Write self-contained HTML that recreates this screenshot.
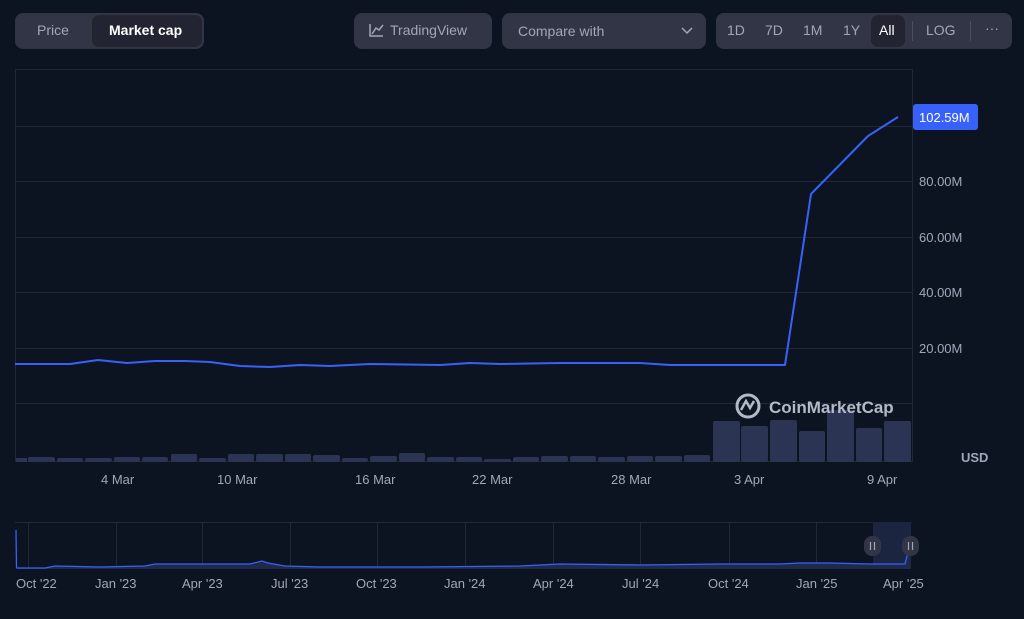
<!DOCTYPE html>
<html><head><meta charset="utf-8"><style>
html,body{margin:0;padding:0;background:#0d1421;width:1024px;height:619px;overflow:hidden;font-family:"Liberation Sans",sans-serif;}
.box{position:absolute;background:#323546;border-radius:8px;}
.t{position:absolute;color:#a1a7bb;font-size:14px;}
</style></head><body>
<div class="box" style="left:15px;top:13px;width:189px;height:36px;"></div>
<div class="box" style="left:92px;top:15px;width:110px;height:32px;background:#222531;border-radius:7px;"></div>
<div class="t" style="left:37px;top:22px;">Price</div>
<div class="t" style="left:109px;top:22px;color:#fff;font-weight:bold;">Market cap</div>
<div class="box" style="left:354px;top:13px;width:138px;height:36px;"></div>
<svg style="position:absolute;left:368px;top:22px" width="16" height="16"><path d="M2 2V14H15M4 12L8 6L11 8L15 3" stroke="#a1a7bb" stroke-width="1.5" fill="none"/></svg>
<div class="t" style="left:390px;top:22px;">TradingView</div>
<div class="box" style="left:502px;top:13px;width:204px;height:36px;"></div>
<div class="t" style="left:518px;top:23px;">Compare with</div>
<svg style="position:absolute;left:680px;top:26px" width="14" height="10"><path d="M2 2L7 7L12 2" stroke="#a1a7bb" stroke-width="1.5" fill="none"/></svg>
<div class="box" style="left:716px;top:13px;width:296px;height:36px;"></div>
<div class="box" style="left:871px;top:15px;width:34px;height:32px;background:#222531;border-radius:7px;"></div>
<div class="t" style="left:727px;top:22px;">1D</div>
<div class="t" style="left:765px;top:22px;">7D</div>
<div class="t" style="left:803px;top:22px;">1M</div>
<div class="t" style="left:843px;top:22px;">1Y</div>
<div class="t" style="left:879px;top:22px;color:#fff;">All</div>
<div style="position:absolute;left:912px;top:21px;width:1px;height:20px;background:#4a4e5e"></div>
<div class="t" style="left:926px;top:22px;">LOG</div>
<div style="position:absolute;left:970px;top:21px;width:1px;height:20px;background:#4a4e5e"></div>
<div class="t" style="left:985px;top:20px;">···</div>

<svg style="position:absolute;left:0;top:0" width="1024" height="619">
<g stroke="#222837" stroke-width="1">
<rect x="15.5" y="69.5" width="897" height="392" fill="none"/>
<line x1="15" y1="126.5" x2="912" y2="126.5"/>
<line x1="15" y1="181.5" x2="912" y2="181.5"/>
<line x1="15" y1="237.5" x2="912" y2="237.5"/>
<line x1="15" y1="292.5" x2="912" y2="292.5"/>
<line x1="15" y1="348.5" x2="912" y2="348.5"/>
<line x1="15" y1="403.5" x2="912" y2="403.5"/>
</g>
<g fill="#2b3452">
<rect x="16" y="458" width="11" height="4"/>
<rect x="28" y="457" width="27" height="5" rx="2"/>
<rect x="57" y="458" width="26" height="4" rx="2"/>
<rect x="85" y="458" width="27" height="4" rx="2"/>
<rect x="114" y="457" width="26" height="5" rx="2"/>
<rect x="142" y="457" width="26" height="5" rx="2"/>
<rect x="171" y="454" width="26" height="8" rx="2"/>
<rect x="199" y="458" width="27" height="4" rx="2"/>
<rect x="228" y="454" width="26" height="8" rx="2"/>
<rect x="256" y="454" width="27" height="8" rx="2"/>
<rect x="285" y="454" width="26" height="8" rx="2"/>
<rect x="313" y="455" width="27" height="7" rx="2"/>
<rect x="342" y="458" width="26" height="4" rx="2"/>
<rect x="370" y="456" width="27" height="6" rx="2"/>
<rect x="399" y="453" width="26" height="9" rx="2"/>
<rect x="427" y="457" width="27" height="5" rx="2"/>
<rect x="456" y="457" width="26" height="5" rx="2"/>
<rect x="484" y="459" width="27" height="3" rx="2"/>
<rect x="513" y="457" width="26" height="5" rx="2"/>
<rect x="541" y="456" width="27" height="6" rx="2"/>
<rect x="570" y="456" width="26" height="6" rx="2"/>
<rect x="598" y="457" width="27" height="5" rx="2"/>
<rect x="627" y="456" width="26" height="6" rx="2"/>
<rect x="655" y="456" width="27" height="6" rx="2"/>
<rect x="684" y="455" width="26" height="7" rx="2"/>
<rect x="713" y="421" width="27" height="41" rx="2"/>
<rect x="741" y="426" width="27" height="36" rx="2"/>
<rect x="770" y="420" width="27" height="42" rx="2"/>
<rect x="799" y="431" width="26" height="31" rx="2"/>
<rect x="827" y="410" width="27" height="52" rx="2"/>
<rect x="856" y="428" width="26" height="34" rx="2"/>
<rect x="884" y="421" width="27" height="41" rx="2"/>
</g>
<polyline fill="none" stroke="#3861fb" stroke-width="2" stroke-linejoin="round" points="15,364 70,364 98,360 127,363 155,361 185,361 210,362 240,366 270,367 300,365 330,366 370,364 440,365 470,363 500,364 560,363 640,363 670,365 785,365 811,194 868,136 898,117"/>
<g fill="#cfd6e4" opacity="0.85">
<circle cx="748" cy="406" r="11" fill="none" stroke="#cfd6e4" stroke-width="3"/>
<path d="M741 410L746 401L750 408L754 401" stroke="#cfd6e4" stroke-width="2.5" fill="none"/>
<text x="769" y="413" font-size="17" font-weight="bold" font-family="Liberation Sans">CoinMarketCap</text>
</g>
<rect x="913" y="104" width="65" height="26" rx="3" fill="#3861fb"/>
<text x="919" y="122" font-size="13" fill="#fff">102.59M</text>
<g font-size="13" fill="#a1a7bb">
<text x="919" y="186">80.00M</text>
<text x="919" y="242">60.00M</text>
<text x="919" y="297">40.00M</text>
<text x="919" y="353">20.00M</text>
<text x="961" y="462" font-weight="bold">USD</text>
<text x="101" y="484">4 Mar</text>
<text x="217" y="484">10 Mar</text>
<text x="355" y="484">16 Mar</text>
<text x="472" y="484">22 Mar</text>
<text x="611" y="484">28 Mar</text>
<text x="734" y="484">3 Apr</text>
<text x="867" y="484">9 Apr</text>
</g>
<g stroke="#222837">
<line x1="15" y1="522.5" x2="912" y2="522.5"/>
<line x1="28.5" y1="522" x2="28.5" y2="568"/>
<line x1="116.5" y1="522" x2="116.5" y2="568"/>
<line x1="202.5" y1="522" x2="202.5" y2="568"/>
<line x1="290.5" y1="522" x2="290.5" y2="568"/>
<line x1="377.5" y1="522" x2="377.5" y2="568"/>
<line x1="465.5" y1="522" x2="465.5" y2="568"/>
<line x1="553.5" y1="522" x2="553.5" y2="568"/>
<line x1="640.5" y1="522" x2="640.5" y2="568"/>
<line x1="729.5" y1="522" x2="729.5" y2="568"/>
<line x1="816.5" y1="522" x2="816.5" y2="568"/>
</g>
<rect x="873" y="522" width="38" height="47" fill="#1b2540"/>
<path d="M16 569L16 530L17 568L45 568L55 566L100 567L145 566L155 564L250 564L262 561L268 563L285 566L320 567L420 567L520 566L560 564L640 565L720 564L780 564L800 563L830 563L870 564L905 564L907 556L911 548L911 569Z" fill="#1f2a4a"/>
<polyline fill="none" stroke="#3861fb" stroke-width="1.3" points="16,530 16.5,567 17,568 45,568 55,566 100,567 145,566 155,564 250,564 262,561 268,563 285,566 320,567 420,567 520,566 560,564 640,565 720,564 780,564 800,563 830,563 870,564 905,564 907,556 911,548"/>
<rect x="864" y="536" width="17" height="20" rx="8" fill="#323546"/>
<rect x="902" y="536" width="17" height="20" rx="8" fill="#323546"/>
<g stroke="#a1a7bb" stroke-width="1.2"><line x1="870.5" y1="542" x2="870.5" y2="550"/><line x1="874.5" y1="542" x2="874.5" y2="550"/><line x1="908.5" y1="542" x2="908.5" y2="550"/><line x1="912.5" y1="542" x2="912.5" y2="550"/></g>
<g font-size="13" fill="#a1a7bb">
<text x="16" y="588">Oct '22</text>
<text x="95" y="588">Jan '23</text>
<text x="182" y="588">Apr '23</text>
<text x="271" y="588">Jul '23</text>
<text x="356" y="588">Oct '23</text>
<text x="444" y="588">Jan '24</text>
<text x="533" y="588">Apr '24</text>
<text x="622" y="588">Jul '24</text>
<text x="708" y="588">Oct '24</text>
<text x="796" y="588">Jan '25</text>
<text x="883" y="588">Apr '25</text>
</g>
</svg>
</body></html>
